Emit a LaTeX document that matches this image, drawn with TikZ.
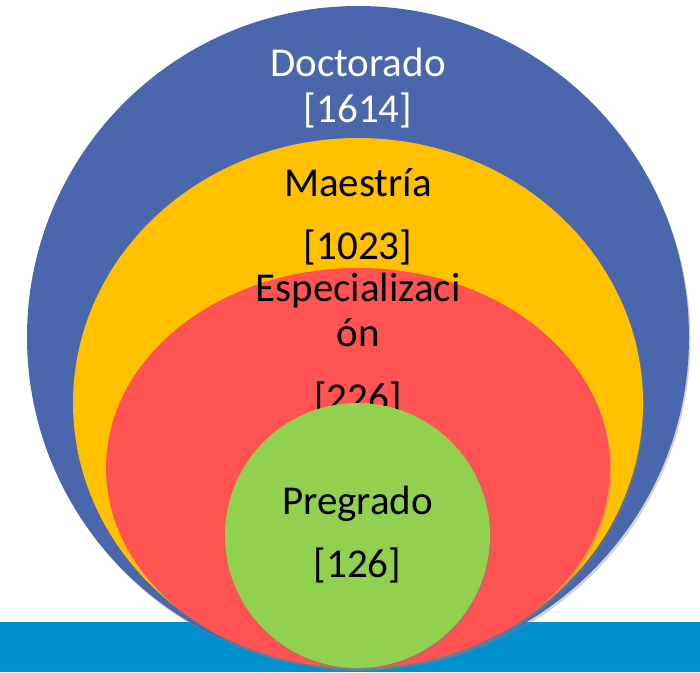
\documentclass[tikz,border=0pt]{standalone}
\usepackage{fontspec}
\setmainfont{Carlito}
\usepackage{tikz}
\usetikzlibrary{shapes.geometric, shadows, positioning}

\definecolor{docblue}{HTML}{4A66AC}
\definecolor{maeyellow}{HTML}{FFC000}
\definecolor{espred}{HTML}{FF5252}
\definecolor{pregreen}{HTML}{92D050}
\definecolor{barblue}{HTML}{0090D0}

\begin{document}
\begin{tikzpicture}[
    x=1pt, y=-1pt,
    % Node styles
    ring/.style={
        ellipse, draw=none, inner sep=0pt,
        drop shadow={opacity=0.35, shadow xshift=1.5pt, shadow yshift=-2.5pt},
    },
    level label/.style={
        anchor=base, inner sep=0pt,
        font=\fontsize{41}{49}\selectfont,
    },
]
\useasboundingbox (0,0) rectangle (700,672);

% --- Bottom bar ---
\fill[barblue] (0,622) rectangle (700,672);

% --- Rings, from the outer one inwards ---
\node[ring, fill=docblue, minimum width=662pt, minimum height=662pt] (doc) at (358,337) {};
\node[level label, text=white] (docname) at ([yshift=-71pt] doc.north) {Doctorado};
\node[level label, text=white] (docval) at ([yshift=-117pt] doc.north) {[1614]};

\node[ring, fill=maeyellow, minimum width=570pt, minimum height=530pt] (mae) at (358,403) {};
\node[level label] (maename) at ([yshift=-59pt] mae.north) {Maestría};
\node[level label] (maeval) at ([yshift=-122pt] mae.north) {[1023]};

\node[ring, fill=espred, minimum width=504pt, minimum height=400pt] (esp) at (358,468) {};
\node[level label] (espname) at ([yshift=-34pt] esp.north) {Especializaci};
\node[level label] (espname2) at ([yshift=-79pt] esp.north) {ón};
\node[level label] (espval) at ([yshift=-144pt] esp.north) {[226]};

\node[ring, fill=pregreen, minimum width=265pt, minimum height=265pt] (pre) at (357.5,535.5) {};
\node[level label] (prename) at ([yshift=-112pt] pre.north) {Pregrado};
\node[level label] (preval) at ([yshift=-175pt] pre.north) {[126]};

\end{tikzpicture}
\end{document}
